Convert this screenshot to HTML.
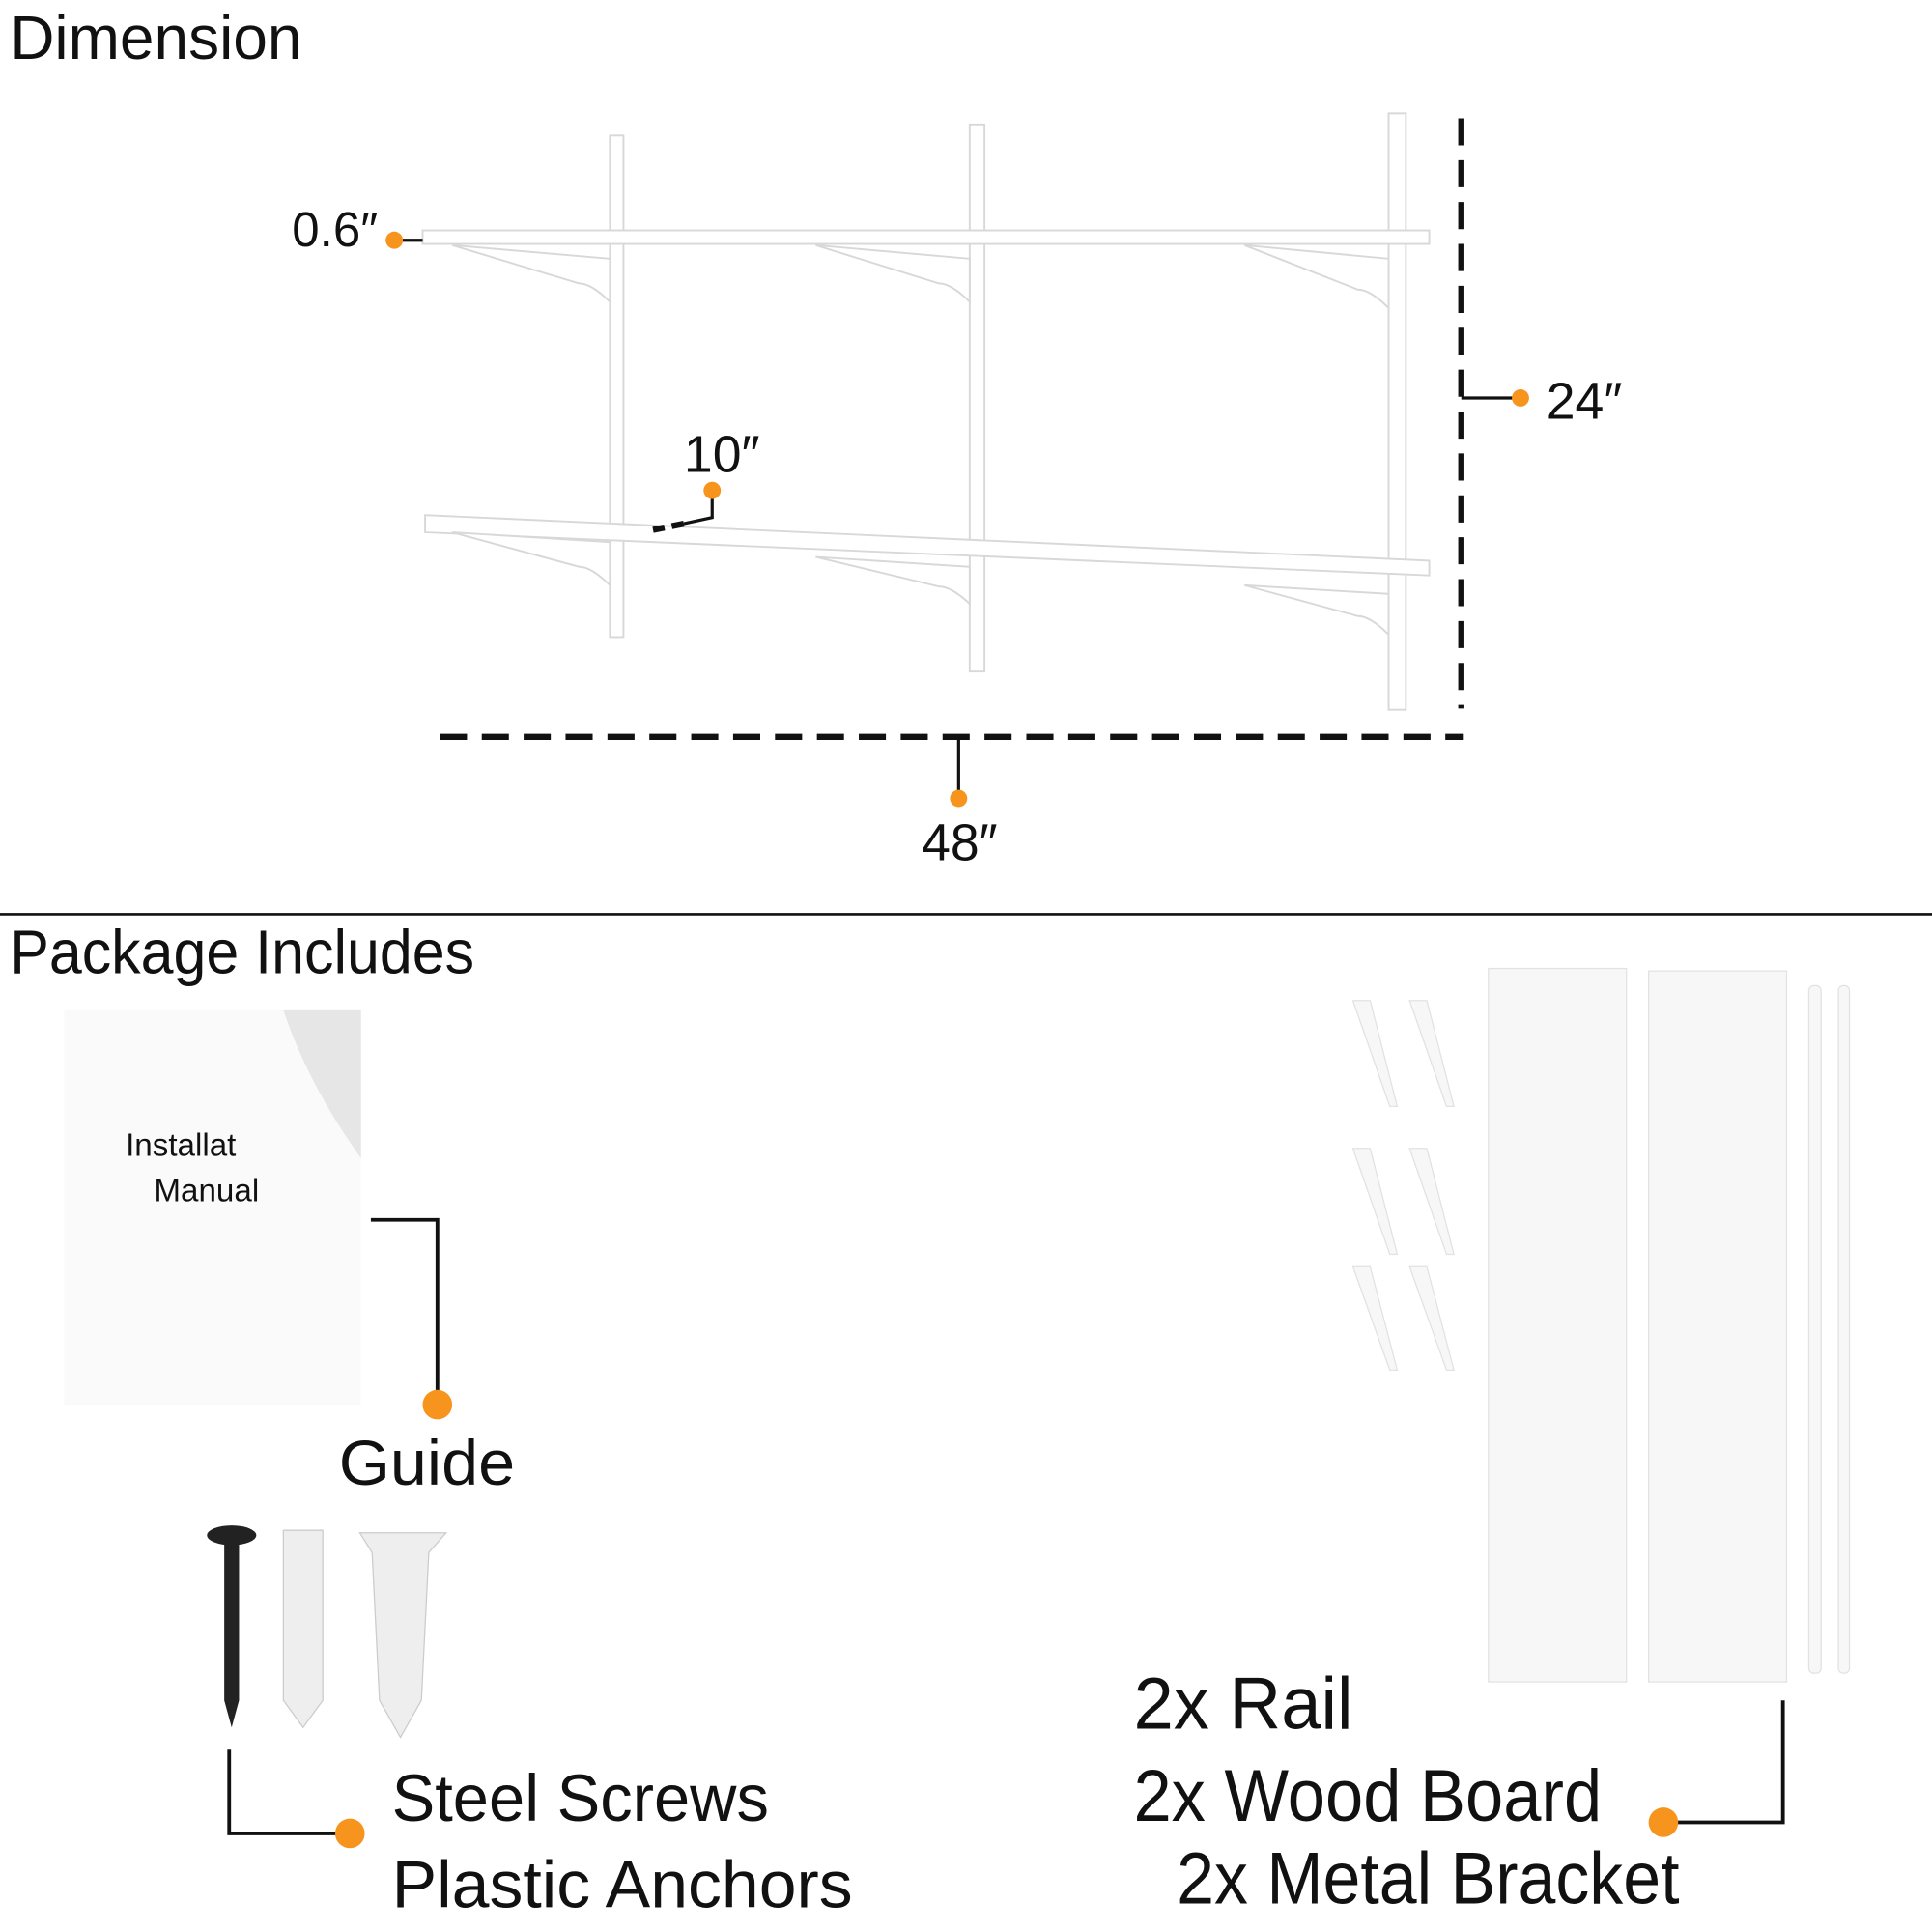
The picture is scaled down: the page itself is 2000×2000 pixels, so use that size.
<!DOCTYPE html>
<html><head><meta charset="utf-8"><style>
html,body{margin:0;padding:0;background:#fff;}
svg{display:block;}
text{font-family:"Liberation Sans",sans-serif;fill:#111;}
</style></head><body>
<svg width="2000" height="2000" viewBox="0 0 1568 1568" xmlns="http://www.w3.org/2000/svg">
<rect width="1568" height="1568" fill="#fff"/>
<text x="8" y="48" font-size="50" textLength="237" lengthAdjust="spacingAndGlyphs">Dimension</text>
<g fill="#fff" stroke="#d8d8d8" stroke-width="1.5">
<rect x="495" y="110" width="11" height="407"/>
<rect x="787" y="101" width="12" height="444"/>
<rect x="1127" y="92" width="14" height="484"/>
<rect x="343" y="187" width="817" height="11"/>
<path d="M367 199 L495 210 L495 245 Q480 230 470 230 Z"/>
<path d="M662 199 L787 210 L787 245 Q772 230 762 230 Z"/>
<path d="M1010 199 L1127 210 L1127 250 Q1112 235 1102 235 Z"/>
<path d="M345 418 L1160 455 L1160 467 L345 432 Z"/>
<path d="M367 432 L495 440 L495 475 Q480 460 470 460 Z"/>
<path d="M662 452 L787 460 L787 490 Q772 476 762 476 Z"/>
<path d="M1010 475 L1127 482 L1127 515 Q1112 500 1102 500 Z"/>
</g>
<line x1="1186" y1="96" x2="1186" y2="575" stroke="#111" stroke-width="5" stroke-dasharray="22,12"/>
<line x1="357" y1="598" x2="1188" y2="598" stroke="#111" stroke-width="5" stroke-dasharray="22,12"/>
<g stroke="#111" stroke-width="2.5" fill="none">
<line x1="1186" y1="323" x2="1234" y2="323"/>
<line x1="778" y1="598" x2="778" y2="648"/>
<line x1="320" y1="195" x2="343" y2="195"/>
<polyline points="578,398 578,420 555,425"/>
</g>
<line x1="555" y1="425" x2="530" y2="430" stroke="#111" stroke-width="5" stroke-dasharray="10,6"/>
<g fill="#F7941D">
<circle cx="1234" cy="323" r="7"/>
<circle cx="778" cy="648" r="7"/>
<circle cx="320" cy="195" r="7"/>
<circle cx="578" cy="398" r="7"/>
</g>
<text x="1255" y="340" font-size="42">24″</text>
<text x="748" y="698" font-size="42">48″</text>
<text x="237" y="200" font-size="40">0.6″</text>
<text x="555" y="383" font-size="42">10″</text>

<line x1="0" y1="742" x2="1568" y2="742" stroke="#111" stroke-width="2"/>
<text x="8" y="790" font-size="50" textLength="377" lengthAdjust="spacingAndGlyphs">Package Includes</text>

<rect x="52" y="820" width="241" height="320" fill="#fafafa"/>
<path d="M230 820 Q250 880 293 940 L293 820 Z" fill="#e6e6e6"/>
<text x="102" y="938" font-size="26">Installat</text>
<text x="125" y="975" font-size="26">Manual</text>
<polyline points="301,990 355,990 355,1140" fill="none" stroke="#111" stroke-width="3"/>
<circle cx="355" cy="1140" r="12" fill="#F7941D"/>
<text x="275" y="1205" font-size="52" textLength="143" lengthAdjust="spacingAndGlyphs">Guide</text>

<ellipse cx="188" cy="1246" rx="20" ry="8" fill="#222"/>
<path d="M182 1252 L194 1252 L194 1380 L188 1402 L182 1380 Z" fill="#222"/>
<path d="M230 1242 L262 1242 L262 1380 L246 1402 L230 1380 Z" fill="#eee" stroke="#ccc"/>
<path d="M292 1244 L362 1244 L348 1260 L342 1380 L325 1410 L308 1380 L302 1260 Z" fill="#eee" stroke="#ccc"/>
<polyline points="186,1420 186,1488 284,1488" fill="none" stroke="#111" stroke-width="3"/>
<circle cx="284" cy="1488" r="12" fill="#F7941D"/>
<text x="318" y="1478" font-size="54" textLength="306" lengthAdjust="spacingAndGlyphs">Steel Screws</text>
<text x="318" y="1548" font-size="54" textLength="374" lengthAdjust="spacingAndGlyphs">Plastic Anchors</text>

<g fill="#f7f7f7" stroke="#e2e2e2">
<path d="M1098 812 L1112 812 L1134 898 L1128 898 Z"/>
<path d="M1144 812 L1158 812 L1180 898 L1174 898 Z"/>
<path d="M1098 932 L1112 932 L1134 1018 L1128 1018 Z"/>
<path d="M1144 932 L1158 932 L1180 1018 L1174 1018 Z"/>
<path d="M1098 1028 L1112 1028 L1134 1112 L1128 1112 Z"/>
<path d="M1144 1028 L1158 1028 L1180 1112 L1174 1112 Z"/>
<rect x="1208" y="786" width="112" height="579"/>
<rect x="1338" y="788" width="112" height="577"/>
<rect x="1468" y="800" width="10" height="558" rx="4"/>
<rect x="1492" y="800" width="9" height="558" rx="4"/>
</g>
<polyline points="1447,1380 1447,1479 1350,1479" fill="none" stroke="#111" stroke-width="3"/>
<circle cx="1350" cy="1479" r="12" fill="#F7941D"/>
<text x="920" y="1403" font-size="60" textLength="178" lengthAdjust="spacingAndGlyphs">2x Rail</text>
<text x="920" y="1478" font-size="60" textLength="380" lengthAdjust="spacingAndGlyphs">2x Wood Board</text>
<text x="955" y="1545" font-size="60" textLength="408" lengthAdjust="spacingAndGlyphs">2x Metal Bracket</text>
</svg>
</body></html>
